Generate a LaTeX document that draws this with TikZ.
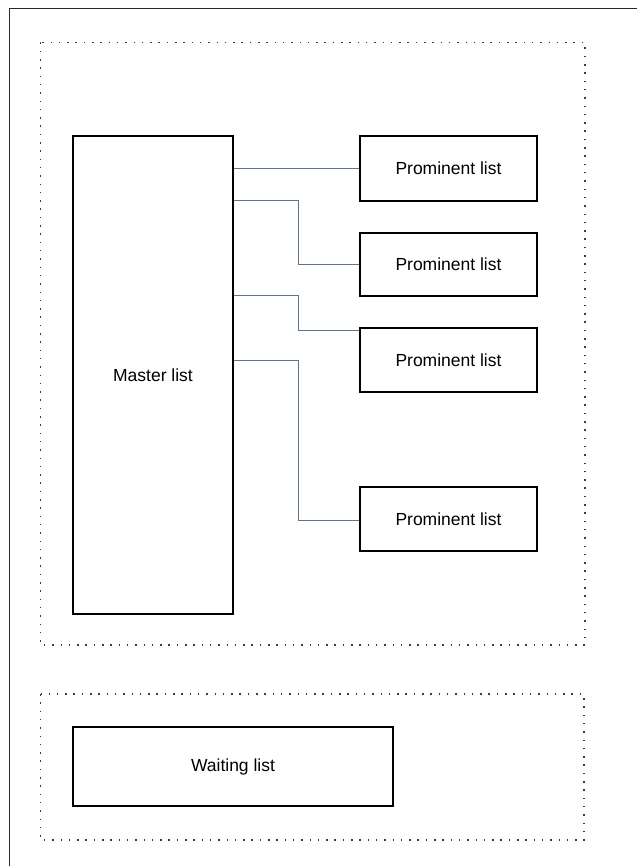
\documentclass[tikz,border=0pt]{standalone}
\usepackage{fontspec}
\setmainfont{Liberation Sans}
\usetikzlibrary{calc}
\definecolor{conn}{RGB}{92,116,138}
\definecolor{frame}{RGB}{40,40,40}
\definecolor{dots}{RGB}{60,60,60}
\begin{document}
\begin{tikzpicture}[x=1pt,y=-1pt,
  listbox/.style={draw=black,line width=1.4pt,rectangle,inner sep=0pt,font=\fontsize{17.5}{20}\selectfont},
  connline/.style={draw=conn,line width=1.1pt},
  dotbox/.style={draw=dots,line width=1.5pt,dash pattern=on 1.5pt off 6.8pt},
  frameline/.style={draw=frame,line width=1.7pt}]
\useasboundingbox (0,0) rectangle (637,866);
\fill[white] (0,0) rectangle (637,866);
% outer frame (top and left edges visible)
\coordinate (ftr) at (637,8.5);
\coordinate (ftl) at (9.5,8.5);
\coordinate (fbl) at (9.5,866);
\draw[frameline] (ftr) -- (ftl) -- (fbl);
% dotted groups
\draw[dotbox] (40.5,42.5) rectangle (585,645);
\draw[dotbox] (40.5,694) rectangle (584,840);
% nodes
\node[listbox,minimum width=160pt,minimum height=478pt] (m) at (153,375) {Master list};
\node[listbox,minimum width=177pt,minimum height=65pt] (p1) at (448.5,168.5) {Prominent list};
\node[listbox,minimum width=177pt,minimum height=63pt] (p2) at (448.5,264.5) {Prominent list};
\node[listbox,minimum width=177pt,minimum height=64pt] (p3) at (448.5,360) {Prominent list};
\node[listbox,minimum width=177pt,minimum height=64pt] (p4) at (448.5,519) {Prominent list};
\node[listbox,minimum width=320pt,minimum height=79pt] (w) at (233,766.5) {Waiting list};
% connectors
\coordinate (m2) at ($(m.north east)+(0,65)$);
\coordinate (m3) at ($(m.north east)+(0,160)$);
\coordinate (m4) at ($(m.north east)+(0,225)$);
\coordinate (p3in) at ($(p3.north west)+(0,3.5)$);
\coordinate (p4in) at ($(p4.north west)+(0,34)$);
\draw[connline] (m.east |- p1.west) -- (p1.west);
\draw[connline] (m2) -- ++(65,0) |- (p2.west);
\draw[connline] (m3) -- ++(65,0) |- (p3in);
\draw[connline] (m4) -- ++(65,0) |- (p4in);
\end{tikzpicture}
\end{document}
